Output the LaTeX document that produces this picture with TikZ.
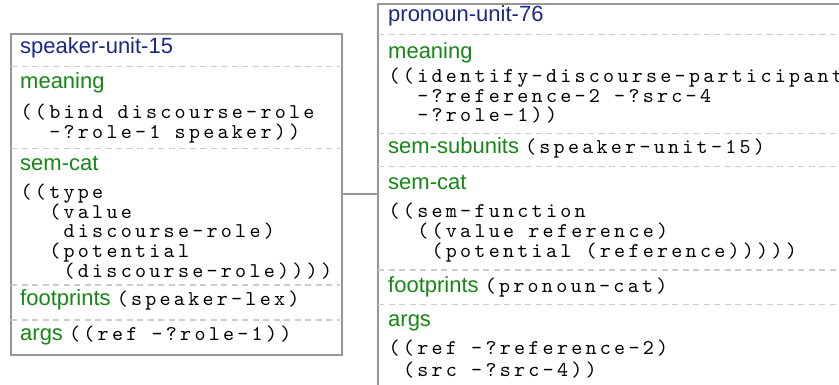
\documentclass[tikz,border=0pt]{standalone}
\usepackage{fontspec}
\setsansfont{Liberation Sans}
\setmonofont{lmmono10-regular.otf}[LetterSpace=15.6]
\definecolor{titleblue}{RGB}{28,40,135}
\definecolor{labgreen}{RGB}{22,135,22}
\definecolor{bordergray}{RGB}{150,150,150}
\definecolor{sepgray}{RGB}{205,205,205}
\newcommand\cdf{\ttfamily\fontsize{21}{20}\selectfont\color{black}}
\tikzset{
 box/.style={draw=bordergray, line width=2pt, inner sep=0pt, anchor=north west, fill=white},
 sepline/.style={draw=sepgray, line width=1.5pt, dash pattern=on 6pt off 4.5pt},
 ttl/.style={anchor=mid west, inner sep=0pt, text=titleblue, font=\sffamily\fontsize{22}{26}\selectfont},
 lab/.style={anchor=mid west, inner sep=0pt, text=labgreen, font=\sffamily\fontsize{22}{26}\selectfont},
 code/.style={anchor=base west, inner sep=0pt, text=black, font=\cdf, text height=12pt, text depth=3pt},
 conn/.style={draw=bordergray, line width=2pt}
}
\begin{document}
\begin{tikzpicture}[x=1pt,y=-1pt]
\clip (0,0) rectangle (839,385);
\fill[white] (0,0) rectangle (839,385);
% boxes
\node[box, minimum width=331pt, minimum height=321.6pt] (L) at (10,32.7) {};
\node[box, minimum width=520pt, minimum height=386pt] (R) at (377.3,2.7) {};
\draw[conn] (L.east) -- (L.east -| R.west);
% separators left
\foreach \yy in {66.7,148.3,285,320} \draw[sepline] (11,\yy) -- (340,\yy);
% separators right
\foreach \yy in {34.3,133.3,166.7,270,304.3} \draw[sepline] (378.3,\yy) -- (839,\yy);
% left text
\node[ttl] (lt) at (20,51) {speaker-unit-15};
\node[lab] (lm) at (20,86.7) {meaning};
\node[code] (lm1) at (20.5,118.3) {((bind discourse-role};
\node[code] (lm2) at (49.1,138.3) {-?role-1 speaker))};
\node[lab] (ls) at (20,168) {sem-cat};
\node[code] (ls1) at (20.5,198.5) {((type};
\node[code] (ls2) at (49.1,218.5) {(value};
\node[code] (ls3) at (63.4,238) {discourse-role)};
\node[code] (ls4) at (49.1,257.5) {(potential};
\node[code] (ls5) at (63.4,277) {(discourse-role))))};
\node[lab] (lf) at (20,303.5) {footprints {\cdf (speaker-lex)}};
\node[lab] (la) at (20,338.5) {args {\cdf ((ref -?role-1))}};
% right text
\node[ttl] (rt) at (388,19) {pronoun-unit-76};
\node[lab] (rm) at (388,56.3) {meaning};
\node[code] (rm1) at (388.5,83) {((identify-discourse-participant};
\node[code] (rm2) at (417.1,102.5) {-?reference-2 -?src-4};
\node[code] (rm3) at (417.1,122) {-?role-1))};
\node[lab] (rsu) at (388,151.7) {sem-subunits {\cdf (speaker-unit-15)}};
\node[lab] (rs) at (388,187.5) {sem-cat};
\node[code] (rs1) at (388.5,218) {((sem-function};
\node[code] (rs2) at (417.1,238) {((value reference)};
\node[code] (rs3) at (431.4,258) {(potential (reference)))))};
\node[lab] (rf) at (388,290) {footprints {\cdf (pronoun-cat)}};
\node[lab] (ra) at (388,324) {args};
\node[code] (ra1) at (388.5,354) {((ref -?reference-2)};
\node[code] (ra2) at (402.8,376) {(src -?src-4))};
\end{tikzpicture}
\end{document}
